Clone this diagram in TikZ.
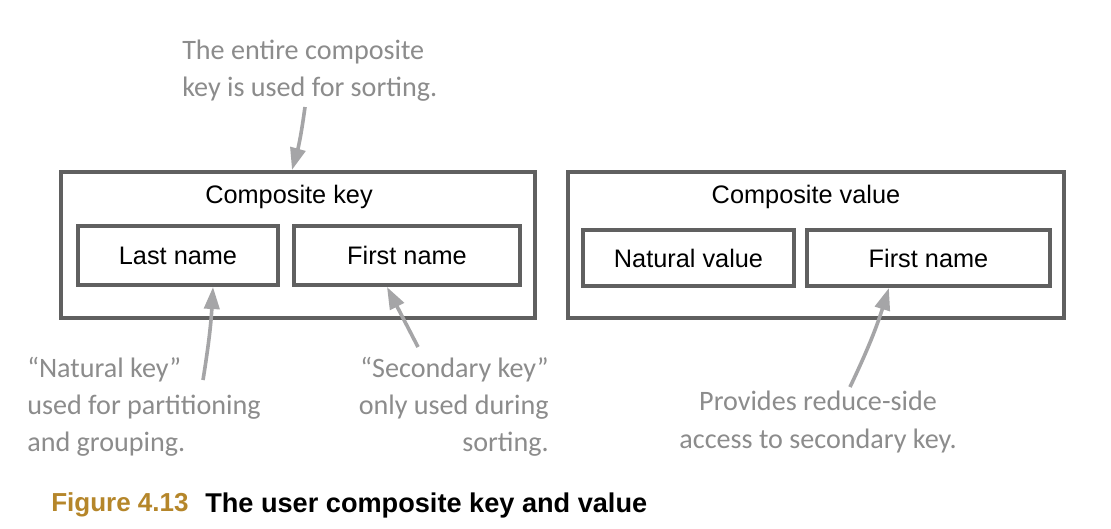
\documentclass[tikz,border=0pt]{standalone}
\usepackage{fontspec}
\setmainfont{Liberation Sans}
\newfontfamily\notefont{Carlito}
\usetikzlibrary{arrows.meta,calc}
\definecolor{boxgray}{HTML}{606060}
\definecolor{notegray}{HTML}{8C8C8C}
\definecolor{arrowgray}{HTML}{A5A5A7}
\definecolor{figgold}{HTML}{B5862A}
\tikzset{
  box/.style={draw=boxgray, line width=1mm, inner sep=0pt,
    font=\fontsize{18}{22}\selectfont},
  boxtitle/.style={inner sep=0pt, font=\fontsize{18}{22}\selectfont},
  note/.style={inner sep=0pt, text=notegray,
    font=\notefont\fontsize{20}{26.5}\selectfont},
  notearrow/.style={draw=arrowgray, line width=0.9mm,
    -{Triangle[length=5.5mm,width=3.8mm]}},
  capnum/.style={inner sep=0pt, text=figgold,
    font=\bfseries\fontsize{18.5}{22}\selectfont},
  captext/.style={inner sep=0pt,
    font=\bfseries\fontsize{19.3}{22}\selectfont}
}

\begin{document}
\begin{tikzpicture}[x=0.025cm,y=-0.025cm]
  \useasboundingbox[fill=white] (0,0) rectangle (1111,528);

  %%%%% composite key %%%%%
  \node[box, minimum width=11.85cm, minimum height=3.65cm] (keybox) at (298,245) {};
  \node[boxtitle] (keytitle) at (289,197) {Composite key};
  \node[box, minimum width=5cm, minimum height=1.475cm] (lastname) at (178,255.5) {Last name};
  \node[box, minimum width=5.65cm, minimum height=1.475cm] (firstname) at (407,255.5) {First name};

  %%%%% composite value %%%%%
  \node[box, minimum width=12.4cm, minimum height=3.65cm] (valbox) at (816,245) {};
  \node[boxtitle] (valtitle) at (806,197) {Composite value};
  \node[box, minimum width=5.275cm, minimum height=1.4cm] (natvalue) at (688.5,258) {Natural value};
  \node[box, minimum width=6.075cm, minimum height=1.4cm] (valfirst) at (928.5,258) {First name};

  %%%%% notes %%%%%
  \node[note, anchor=west, align=left] (sortnote) at (182,71)
    {The entire composite\\key is used for sorting.};
  \node[note, anchor=west, align=left] (naturalnote) at (27,407)
    {“Natural key”\\used for partitioning\\and grouping.};
  \node[note, anchor=east, align=right] (secondnote) at (549,407)
    {“Secondary key”\\only used during\hspace{0.3cm}\\sorting.};
  \node[note, align=center] (reducenote) at (818,422)
    {Provides reduce-side\\access to secondary key.};

  \coordinate (sorttail) at (305,107);
  \coordinate (naturaltail) at (203,380);
  \coordinate (secondtail) at (418,347);
  \coordinate (reducetail) at (850,387);

  \draw[notearrow] (sorttail) to[bend left=4] ([xshift=-0.15cm]keybox.north);
  \draw[notearrow] (naturaltail) to[bend right=3] ([xshift=0.875cm]lastname.south);
  \draw[notearrow] (secondtail) -- ([xshift=-0.5cm]firstname.south);
  \draw[notearrow] (reducetail) to[bend right=4] ([xshift=-0.99cm]valfirst.south);

  %%%%% caption %%%%%
  \node[capnum, anchor=west] (fignum) at (51,505) {Figure 4.13};
  \node[captext, anchor=west] (figtitle) at (205,505) {The user composite key and value};
\end{tikzpicture}
\end{document}
